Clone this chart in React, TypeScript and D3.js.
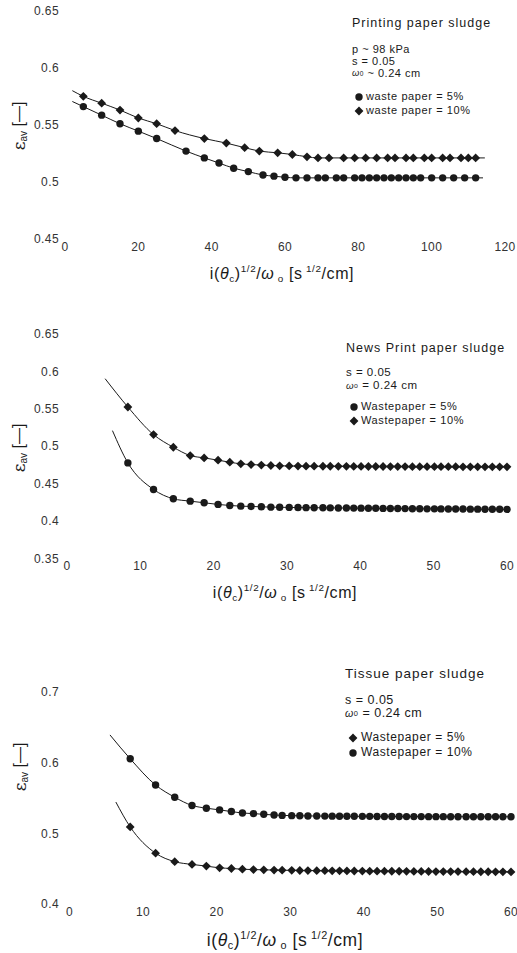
import React from "react";
import * as d3 from "d3";

// ---------- Panel 1: Printing paper sludge ----------
const p1XTicks = [0, 20, 40, 60, 80, 100, 120];
const p1YTicks = [0.45, 0.5, 0.55, 0.6, 0.65];
const p1X10 = [5, 10, 15, 20, 25, 30, 38, 44, 49, 53, 58, 62, 66, 69, 72, 76, 79, 82, 85, 88, 90, 93, 95, 98, 100, 103, 105, 108, 110, 112];
const p1Y10 = [0.576, 0.570, 0.564, 0.557, 0.552, 0.546, 0.539, 0.535, 0.531, 0.528, 0.5265, 0.525, 0.523, 0.522, 0.522, 0.522, 0.522, 0.522, 0.522, 0.522, 0.522, 0.522, 0.522, 0.522, 0.522, 0.522, 0.522, 0.522, 0.522, 0.522];
const p1Line10Ends = [[2, 0.581], [114.5, 0.522]];
const p1X5 = [5, 10, 15, 20, 25, 33, 38, 42, 46, 50, 54, 57, 60, 63, 66, 69, 71, 74, 76, 79, 81, 83, 85, 87, 89, 91, 93, 95, 97, 100, 103, 106, 109, 112];
const p1Y5 = [0.567, 0.5595, 0.552, 0.5455, 0.539, 0.528, 0.522, 0.5175, 0.513, 0.510, 0.507, 0.506, 0.505, 0.5045, 0.5045, 0.5045, 0.5045, 0.5045, 0.5045, 0.5045, 0.5045, 0.5045, 0.5045, 0.5045, 0.5045, 0.5045, 0.5045, 0.5045, 0.5045, 0.5045, 0.5045, 0.5045, 0.5045, 0.5045];
const p1Line5Ends = [[2, 0.5715], [114, 0.5045]];

// ---------- Panel 2: News Print paper sludge ----------
const p2XTicks = [0, 10, 20, 30, 40, 50, 60];
const p2YTicks = [0.35, 0.4, 0.45, 0.5, 0.55, 0.6, 0.65];
const p2X = [8.3, 11.8, 14.5, 16.8, 18.7, 20.6, 22.2, 23.7, 25.1, 26.5, 27.8, 29.0, 30.3, 31.5, 32.6, 33.7, 34.9, 35.9, 37.0, 38.1, 39.1, 40.1, 41.1, 42.1, 43.1, 44.1, 45.1, 46.1, 47.1, 48.1, 49.1, 50.1, 51.0, 52.0, 53.0, 54.0, 55.0, 56.0, 57.0, 58.0, 59.0, 60.0];
const p2Y10 = [0.5538, 0.5169, 0.5000, 0.4889, 0.4858, 0.4827, 0.4800, 0.4778, 0.4769, 0.4762, 0.4756, 0.4752, 0.4750, 0.4748, 0.4747, 0.4747, 0.4746, 0.4746, 0.4745, 0.4745, 0.4744, 0.4744, 0.4743, 0.4743, 0.4743, 0.4742, 0.4742, 0.4742, 0.4741, 0.4741, 0.4741, 0.4740, 0.4740, 0.4740, 0.4740, 0.4739, 0.4739, 0.4739, 0.4738, 0.4738, 0.4738, 0.4738];
const p2Line10Ends = [[5.2, 0.5916], [60, 0.4738]];
const p2Y5 = [0.4791, 0.4436, 0.4311, 0.4280, 0.4258, 0.4236, 0.4222, 0.4213, 0.4209, 0.4204, 0.4200, 0.4198, 0.4196, 0.4194, 0.4193, 0.4192, 0.4191, 0.4190, 0.4189, 0.4188, 0.4187, 0.4186, 0.4185, 0.4184, 0.4183, 0.4182, 0.4181, 0.4180, 0.4179, 0.4178, 0.4177, 0.4177, 0.4176, 0.4175, 0.4175, 0.4174, 0.4173, 0.4173, 0.4172, 0.4171, 0.4171, 0.4170];
const p2Line5Ends = [[6.2, 0.5222], [60, 0.417]];

// ---------- Panel 3: Tissue paper sludge ----------
const p3XTicks = [0, 10, 20, 30, 40, 50, 60];
const p3YTicks = [0.4, 0.5, 0.6, 0.7];
const p3X = [8.25, 11.7, 14.3, 16.65, 18.6, 20.4, 22.0, 23.5, 25.0, 26.4, 27.8, 28.9, 30.2, 31.3, 32.4, 33.6, 34.7, 35.7, 36.7, 37.7, 38.7, 39.8, 40.8, 41.8, 42.8, 43.8, 44.8, 45.8, 46.8, 47.8, 48.8, 49.8, 50.8, 51.8, 52.8, 53.9, 54.9, 55.9, 56.9, 57.9, 58.9, 60.0];
const p3Y10 = [0.6072, 0.5700, 0.5527, 0.5411, 0.5372, 0.5348, 0.5324, 0.5304, 0.5295, 0.5285, 0.5275, 0.5270, 0.5266, 0.5264, 0.5262, 0.5261, 0.5260, 0.5259, 0.5258, 0.5258, 0.5257, 0.5256, 0.5256, 0.5255, 0.5255, 0.5254, 0.5254, 0.5253, 0.5253, 0.5253, 0.5252, 0.5252, 0.5252, 0.5251, 0.5251, 0.5251, 0.5250, 0.5250, 0.5250, 0.5250, 0.5250, 0.5250];
const p3Line10Ends = [[5.5, 0.641], [60, 0.525]];
const p3Y5 = [0.5106, 0.4734, 0.4614, 0.4575, 0.4551, 0.4527, 0.4517, 0.4507, 0.4502, 0.4498, 0.4495, 0.4493, 0.4491, 0.4489, 0.4488, 0.4487, 0.4486, 0.4485, 0.4484, 0.4483, 0.4482, 0.4481, 0.4480, 0.4480, 0.4479, 0.4478, 0.4478, 0.4477, 0.4476, 0.4476, 0.4475, 0.4474, 0.4474, 0.4473, 0.4473, 0.4472, 0.4472, 0.4471, 0.4471, 0.4470, 0.4470, 0.4469];
const p3Line5Ends = [[6.3, 0.5459], [60, 0.4469]];

const FONT = "'Liberation Sans', Arial, sans-serif";
const INK = "#1a1a1a";

type Series = { xs: number[]; ys: number[]; ends: number[][]; shape: "circle" | "diamond" };

type PanelProps = {
  xDomain: [number, number];
  xRange: [number, number];
  yDomain: [number, number];
  yRange: [number, number];
  xTicks: number[];
  yTicks: number[];
  tickLabelY: number;
  yFmt: (v: number) => string;
  series: Series[];
  yTitle: { x: number; y: number };
  xTitle: { x: number; y: number; size: number };
  title: { x: number; y: number; size: number; text: string };
  params: { lines: React.ReactNode[]; y0: number; dy: number; size: number };
  legend: { mx: number; tx: number; y0: number; dy: number; size: number; items: { shape: "circle" | "diamond"; text: string }[] };
};

function Marker({ shape, x, y }: { shape: "circle" | "diamond"; x: number; y: number }) {
  if (shape === "circle") return <circle cx={x} cy={y} r={3.7} fill={INK} />;
  const h = 4.4;
  return <path d={`M${x},${y - h}L${x + h},${y}L${x},${y + h}L${x - h},${y}Z`} fill={INK} />;
}

function Panel(p: PanelProps) {
  const x = d3.scaleLinear().domain(p.xDomain).range(p.xRange);
  const y = d3.scaleLinear().domain(p.yDomain).range(p.yRange);
  const line = d3
    .line<number[]>()
    .x((d) => x(d[0]))
    .y((d) => y(d[1]))
    .curve(d3.curveMonotoneX);
  return (
    <g>
      {p.series.map((s, i) => {
        const pts = [s.ends[0], ...s.xs.map((v, j) => [v, s.ys[j]]), s.ends[1]];
        return <path key={"l" + i} d={line(pts) || ""} fill="none" stroke={INK} strokeWidth={1} />;
      })}
      {p.series.map((s, i) =>
        s.xs.map((v, j) => <Marker key={`m${i}-${j}`} shape={s.shape} x={x(v)} y={y(s.ys[j])} />)
      )}
      {p.yTicks.map((t) => (
        <text key={"yt" + t} x={59} y={y(t)} textAnchor="end" dominantBaseline="middle" fontFamily={FONT} fontSize={12} letterSpacing={0.4} fill="#333">
          {p.yFmt(t)}
        </text>
      ))}
      {p.xTicks.map((t) => (
        <text key={"xt" + t} x={x(t)} y={p.tickLabelY} textAnchor="middle" dominantBaseline="middle" fontFamily={FONT} fontSize={12} letterSpacing={0.4} fill="#333">
          {t}
        </text>
      ))}
      <text transform={`translate(${p.yTitle.x},${p.yTitle.y}) rotate(-90)`} textAnchor="middle" dominantBaseline="middle" fontFamily={FONT} fill={INK}>
        <tspan fontSize={17} fontFamily="'DejaVu Serif', serif">ε</tspan>
        <tspan fontSize={10} dy={4}>av</tspan>
        <tspan fontSize={16} dy={-4}>{" [—]"}</tspan>
      </text>
      <text x={p.xTitle.x} y={p.xTitle.y} textAnchor="middle" fontFamily={FONT} fontSize={p.xTitle.size} fill={INK} letterSpacing={0.6}>
        <tspan>i(</tspan>
        <tspan fontStyle="italic">θ</tspan>
        <tspan fontSize={p.xTitle.size * 0.62} dy={3}>c</tspan>
        <tspan dy={-3}>)</tspan>
        <tspan fontSize={p.xTitle.size * 0.62} dy={-7}>1/2</tspan>
        <tspan dy={7}>/</tspan>
        <tspan fontStyle="italic">ω</tspan>
        <tspan fontSize={p.xTitle.size * 0.62} dy={3}>{" o"}</tspan>
        <tspan dy={-3}>{" [s"}</tspan>
        <tspan fontSize={p.xTitle.size * 0.62} dy={-7}>{" 1/2"}</tspan>
        <tspan dy={7}>/cm]</tspan>
      </text>
      <text x={p.title.x} y={p.title.y} fontFamily={FONT} fontSize={p.title.size} letterSpacing={1} fill={INK} dominantBaseline="middle">
        {p.title.text}
      </text>
      {p.params.lines.map((l, i) => (
        <text key={"pa" + i} x={p.title.x} y={p.params.y0 + i * p.params.dy} fontFamily={FONT} fontSize={p.params.size} letterSpacing={0.5} fill={INK} dominantBaseline="middle">
          {l}
        </text>
      ))}
      {p.legend.items.map((it, i) => (
        <g key={"lg" + i}>
          <Marker shape={it.shape} x={p.legend.mx} y={p.legend.y0 + i * p.legend.dy} />
          <text x={p.legend.tx} y={p.legend.y0 + i * p.legend.dy} fontFamily={FONT} fontSize={p.legend.size} letterSpacing={0.6} fill={INK} dominantBaseline="middle">
            {it.text}
          </text>
        </g>
      ))}
    </g>
  );
}

const omega = (sub: string, rest: string, size: number) => (
  <>
    <tspan fontStyle="italic" fontSize={size * 0.85}>ω</tspan>
    <tspan fontSize={size * 0.6}>{sub}</tspan>
    <tspan>{rest}</tspan>
  </>
);

export default function App() {
  const fmt2 = (v: number) => (v === 0.5 || v === 0.6 || v === 0.4 || v === 0.7 ? String(v) : v.toFixed(2));
  return (
    <svg width={517} height={953} style={{ position: "absolute", left: 0, top: 0, background: "#fff" }}>
      <Panel
        xDomain={[0, 120]}
        xRange={[65, 505]}
        yDomain={[0.45, 0.65]}
        yRange={[240, 12]}
        xTicks={p1XTicks}
        yTicks={p1YTicks}
        tickLabelY={248}
        yFmt={fmt2}
        series={[
          { xs: p1X10, ys: p1Y10, ends: p1Line10Ends, shape: "diamond" },
          { xs: p1X5, ys: p1Y5, ends: p1Line5Ends, shape: "circle" },
        ]}
        yTitle={{ x: 20, y: 126 }}
        xTitle={{ x: 282, y: 279, size: 16 }}
        title={{ x: 352, y: 24, size: 12.5, text: "Printing paper sludge" }}
        params={{ lines: ["p ~ 98 kPa", "s =  0.05", omega("0", " ~ 0.24 cm", 11)], y0: 50, dy: 12, size: 11 }}
        legend={{ mx: 359, tx: 366, y0: 97, dy: 14, size: 11, items: [
          { shape: "circle", text: "waste paper = 5%" },
          { shape: "diamond", text: "waste paper = 10%" },
        ] }}
      />
      <Panel
        xDomain={[0, 60]}
        xRange={[67, 507]}
        yDomain={[0.35, 0.65]}
        yRange={[559.5, 335]}
        xTicks={p2XTicks}
        yTicks={p2YTicks}
        tickLabelY={566.5}
        yFmt={fmt2}
        series={[
          { xs: p2X, ys: p2Y10, ends: p2Line10Ends, shape: "diamond" },
          { xs: p2X, ys: p2Y5, ends: p2Line5Ends, shape: "circle" },
        ]}
        yTitle={{ x: 20, y: 448 }}
        xTitle={{ x: 285, y: 598, size: 16 }}
        title={{ x: 346, y: 349, size: 12.5, text: "News Print paper sludge" }}
        params={{ lines: ["s = 0.05", omega("o", " = 0.24 cm", 11.5)], y0: 373, dy: 12.5, size: 11.5 }}
        legend={{ mx: 354, tx: 361, y0: 407, dy: 14, size: 11, items: [
          { shape: "circle", text: "Wastepaper = 5%" },
          { shape: "diamond", text: "Wastepaper = 10%" },
        ] }}
      />
      <Panel
        xDomain={[0, 60]}
        xRange={[69.5, 511]}
        yDomain={[0.4, 0.7]}
        yRange={[905, 693.3]}
        xTicks={p3XTicks}
        yTicks={p3YTicks}
        tickLabelY={913}
        yFmt={fmt2}
        series={[
          { xs: p3X, ys: p3Y10, ends: p3Line10Ends, shape: "circle" },
          { xs: p3X, ys: p3Y5, ends: p3Line5Ends, shape: "diamond" },
        ]}
        yTitle={{ x: 21, y: 767 }}
        xTitle={{ x: 285, y: 946, size: 17.5 }}
        title={{ x: 345, y: 674, size: 13.5, text: "Tissue paper sludge" }}
        params={{ lines: ["s = 0.05", omega("0", " = 0.24 cm", 12.5)], y0: 701, dy: 13, size: 12.5 }}
        legend={{ mx: 353, tx: 361, y0: 738, dy: 15, size: 12, items: [
          { shape: "diamond", text: "Wastepaper = 5%" },
          { shape: "circle", text: "Wastepaper = 10%" },
        ] }}
      />
    </svg>
  );
}
